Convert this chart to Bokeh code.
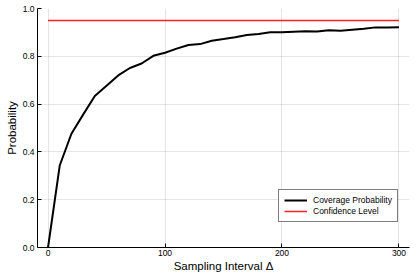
from bokeh.plotting import figure
from bokeh.embed import file_html
from bokeh.resources import INLINE
from bokeh.models import Legend, LegendItem, FixedTicker, Range1d, CustomJSTickFormatter

# Data
interval = [0, 10, 20, 30, 40, 50, 60, 70, 80, 90, 100, 110, 120, 130, 140, 150,
            160, 170, 180, 190, 200, 210, 220, 230, 240, 250, 260, 270, 280, 290, 300]
coverage = [0.0, 0.343, 0.476, 0.556, 0.634, 0.677, 0.72, 0.751, 0.77, 0.802, 0.815,
            0.832, 0.847, 0.851, 0.865, 0.872, 0.88, 0.889, 0.893, 0.901, 0.901,
            0.903, 0.905, 0.904, 0.909, 0.907, 0.911, 0.915, 0.921, 0.92, 0.922]
confidence = [0.95] * len(interval)
x_ticks = [0, 100, 200, 300]
y_ticks = [0.0, 0.2, 0.4, 0.6, 0.8, 1.0]
x_label = "Sampling Interval Δ"
y_label = "Probability"

FONT = "Liberation Sans"

p = figure(width=417, height=278, output_backend="svg", toolbar_location=None,
           x_range=Range1d(-9, 309), y_range=Range1d(0, 1),
           min_border_left=37, min_border_right=8, min_border_top=8, min_border_bottom=31)
p.outline_line_color = None
p.background_fill_color = "white"

l1 = p.line(interval, coverage, line_color="black", line_width=2)
l2 = p.line(interval, confidence, line_color="#ff2020", line_width=1.5)

for ax in (p.xaxis[0], p.yaxis[0]):
    ax.major_tick_in = 4
    ax.major_tick_out = 0
    ax.minor_tick_in = 0
    ax.minor_tick_out = 0
    ax.axis_line_color = "black"
    ax.axis_line_width = 1
    ax.major_tick_line_color = "black"
    ax.major_label_text_font = FONT
    ax.major_label_text_font_size = "8.5px"
    ax.major_label_text_color = "black"
    ax.axis_label_text_font = FONT
    ax.axis_label_text_font_size = "11.5px"
    ax.axis_label_text_font_style = "normal"
    ax.axis_label_text_color = "black"

p.xaxis.ticker = FixedTicker(ticks=x_ticks)
p.yaxis.ticker = FixedTicker(ticks=y_ticks)
p.yaxis.formatter = CustomJSTickFormatter(code="return tick.toFixed(1);")
p.xaxis.axis_label = x_label
p.yaxis.axis_label = y_label
p.xaxis.major_label_standoff = 2
p.xaxis.axis_label_standoff = 1
p.yaxis.major_label_standoff = 3
p.yaxis.axis_label_standoff = 2

p.xgrid.grid_line_color = "black"
p.xgrid.grid_line_alpha = 0.1
p.ygrid.grid_line_color = "black"
p.ygrid.grid_line_alpha = 0.1

legend = Legend(items=[LegendItem(label="Coverage Probability", renderers=[l1]),
                       LegendItem(label="Confidence Level", renderers=[l2])],
                location=(241, 25))
legend.label_text_font = FONT
legend.label_text_font_size = "8.5px"
legend.label_text_color = "black"
legend.border_line_color = "black"
legend.border_line_width = 1
legend.background_fill_alpha = 1
legend.glyph_width = 23
legend.glyph_height = 10
legend.label_height = 10
legend.label_standoff = 6
legend.spacing = 1
legend.padding = 5
legend.margin = 0
p.add_layout(legend, "center")

open("out.html", "w").write(file_html(p, INLINE))
